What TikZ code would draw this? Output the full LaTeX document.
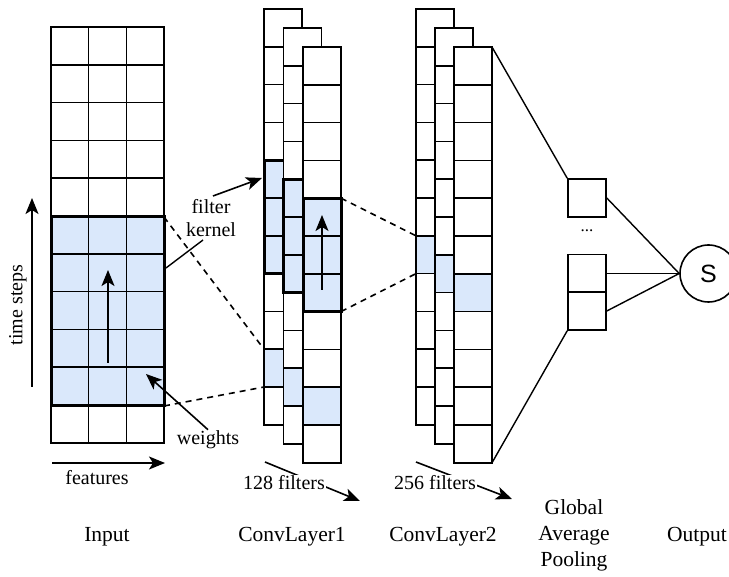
\documentclass[tikz,border=0pt]{standalone}
\usepackage{fontspec}
\setmainfont{Liberation Serif}
\newfontfamily\sansfont{Liberation Sans}
\usetikzlibrary{arrows.meta}
\definecolor{cellblue}{RGB}{218,232,251}

\tikzset{
  cell/.style={draw, line width=1.5pt},
  kernelbox/.style={draw, line width=3pt},
  lbl/.style={font=\fontsize{20}{23}\selectfont, inner sep=1pt},
  layername/.style={font=\fontsize{21.5}{26}\selectfont, inner sep=1pt},
  arr/.style={-{Stealth[length=16pt,width=13pt,inset=4pt]}, line width=1.6pt},
  link/.style={line width=1.4pt},
  dashlink/.style={line width=1.6pt, dash pattern=on 6pt off 5pt},
  poolbox/.style={draw, line width=1.6pt, minimum size=38pt, inner sep=0pt}
}

% one filter column: x, y, blue row, kernel row (-1 for none)
\newcommand{\filtercol}[4]{%
  \fill[white] (#1,#2) rectangle ++(38,415.8);
  \fill[cellblue] (#1,{#2+#3*37.8}) rectangle ++(38,37.8);
  \ifnum#4>-1 \fill[cellblue] (#1,{#2+#4*37.8}) rectangle ++(38,113.4);\fi
  \foreach \r in {0,...,10}
    \draw[cell] (#1,{#2+\r*37.8}) rectangle ++(38,37.8);
  \ifnum#4>-1 \draw[kernelbox] (#1,{#2+#4*37.8}) rectangle ++(38,113.4);\fi
}

\begin{document}
\begin{tikzpicture}[x=1pt, y=-1pt]
\useasboundingbox (0,0) rectangle (729,577);

% input
\fill[cellblue] (51,217) rectangle (164,406);
\foreach \r in {0,...,10}
  \foreach \c in {0,1,2}
    \draw[cell] ({51+\c*37.7},{27+\r*37.8}) rectangle ++(37.7,37.8);
\draw[kernelbox] (51,217) rectangle (164,406);
\coordinate (inTR) at (164,217);
\coordinate (inBR) at (164,406);
\coordinate (inA) at (108,363);
\coordinate (inB) at (108,270);
\draw[arr] (inA) -- (inB);

\coordinate (tsA) at (32,387);
\coordinate (tsB) at (32,198);
\draw[arr] (tsA) -- (tsB);
\node[lbl, rotate=90] (ts) at (18,305) {time steps};
\coordinate (ftA) at (52,463);
\coordinate (ftB) at (165,463);
\draw[arr] (ftA) -- (ftB);
\node[lbl] (ft) at (97,478) {features};

% conv layer 1
\filtercol{264}{9}{9}{4}
\filtercol{283.5}{28}{9}{4}
\filtercol{303}{47}{9}{4}
\coordinate (cA) at (322,290);
\coordinate (cB) at (322,215);
\draw[arr] (cA) -- (cB);
\coordinate (c1a) at (264,349.2);
\coordinate (c1b) at (264,387);
\coordinate (k1t) at (341,198.2);
\coordinate (k1b) at (341,311.6);

% conv layer 2
\filtercol{416}{9}{6}{-1}
\filtercol{435}{28}{6}{-1}
\filtercol{454}{47}{6}{-1}
\coordinate (c2a) at (416,235.8);
\coordinate (c2b) at (416,273.6);
\coordinate (c2TR) at (492,47);
\coordinate (c2BR) at (492,462.8);

% receptive fields
\draw[dashlink] (inTR) -- (c1a);
\draw[dashlink] (inBR) -- (c1b);
\draw[dashlink] (k1t) -- (c2a);
\draw[dashlink] (k1b) -- (c2b);

% pooling and output
\node[poolbox] (pA) at (587,198) {};
\node[poolbox] (pB) at (587,273.5) {};
\node[poolbox] (pC) at (587,311) {};
\node[font=\fontsize{17}{17}\selectfont] (dots) at (587,231) {...};
\node[draw, circle, line width=1.6pt, minimum size=57pt, inner sep=0pt,
      font=\sansfont\fontsize{25}{25}\selectfont] (out) at (708.5,273.5) {S};
\draw[link] (c2TR) -- (pA.north west);
\draw[link] (c2BR) -- (pC.south west);
\draw[link] (pA.east) -- (out.west);
\draw[link] (pB.east) -- (out.west);
\draw[link] (pC.east) -- (out.west);

% annotations
\node[lbl, align=center] (fk) at (211,218) {filter\\kernel};
\coordinate (fkA) at (166,268);
\coordinate (fkB) at (203,240);
\draw[link] (fkA) -- (fkB);
\coordinate (fkC) at (213,196);
\coordinate (fkD) at (262,178);
\draw[arr] (fkC) -- (fkD);
\node[lbl] (wt) at (208,440) {weights};
\coordinate (wtip) at (146,374);
\draw[arr] (wt.north) -- (wtip);

\coordinate (f1a) at (265,462);
\coordinate (f1b) at (360,501);
\draw[arr] (f1a) -- (f1b);
\node[lbl, fill=white] (f1) at (284,483) {128 filters};
\coordinate (f2a) at (416,462);
\coordinate (f2b) at (512,499);
\draw[arr] (f2a) -- (f2b);
\node[lbl, fill=white] (f2) at (435,483) {256 filters};

% layer names
\node[layername] (lin) at (107,537) {Input};
\node[layername] (lc1) at (292,537) {ConvLayer1};
\node[layername] (lc2) at (443,537) {ConvLayer2};
\node[layername, align=center] (lgp) at (574,535) {Global\\Average\\Pooling};
\node[layername] (lout) at (697,537) {Output};
\end{tikzpicture}
\end{document}
